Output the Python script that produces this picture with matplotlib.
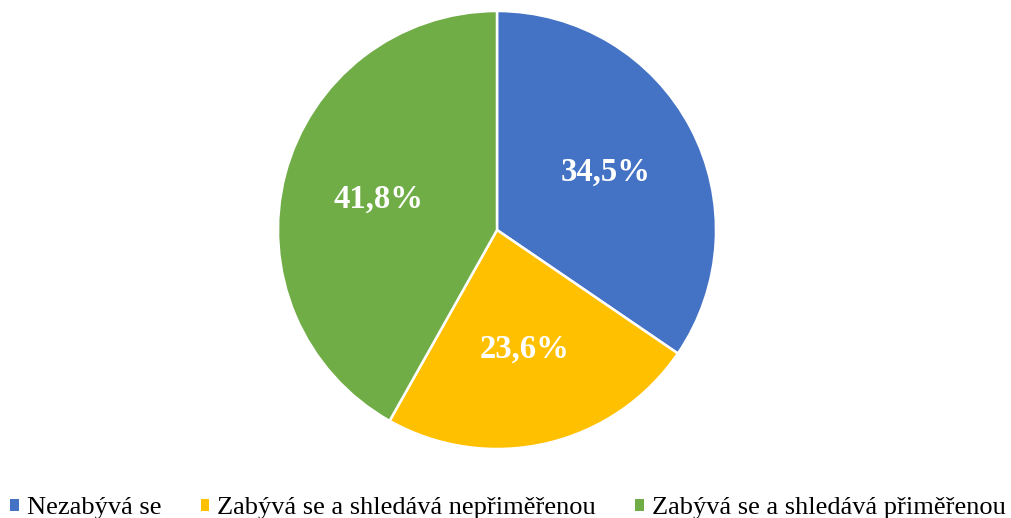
import matplotlib
matplotlib.use("Agg")
import matplotlib.pyplot as plt
from matplotlib.patches import Patch

categories = ["Nezabývá se", "Zabývá se a shledává nepřiměřenou", "Zabývá se a shledává přiměřenou"]
values = [34.5, 23.6, 41.8]
colors = ["#4472C4", "#FFC000", "#70AD47"]

plt.rcParams['font.family'] = ['Liberation Serif', 'DejaVu Serif']

fig = plt.figure(figsize=(10.12, 5.18), dpi=100)
ax = fig.add_axes([278/1012, (518-449)/518, 438/1012, 438/518])

wedges, texts, autotexts = ax.pie(
    values, colors=colors, startangle=90, counterclock=False,
    autopct=lambda p: f"{p:.1f}%".replace(".", ","),
    pctdistance=0.56,
    wedgeprops=dict(edgecolor="white", linewidth=1.8),
    textprops=dict(color="white", fontsize=23.5, fontweight="bold"),
)
ax.set_aspect("equal")
ax.set_xlim(-1.0, 1.0)
ax.set_ylim(-1.0, 1.0)
ax.axis("off")

handles = [Patch(facecolor=c, edgecolor="none") for c in colors]
fig.legend(handles, categories, loc="lower center", bbox_to_anchor=(0.502, -0.002),
           ncol=3, frameon=False, fontsize=19, handlelength=0.32, handleheight=0.32,
           handletextpad=0.3, columnspacing=1.5, borderpad=0, borderaxespad=0)

fig.savefig("out.png", dpi=100, facecolor="white")
